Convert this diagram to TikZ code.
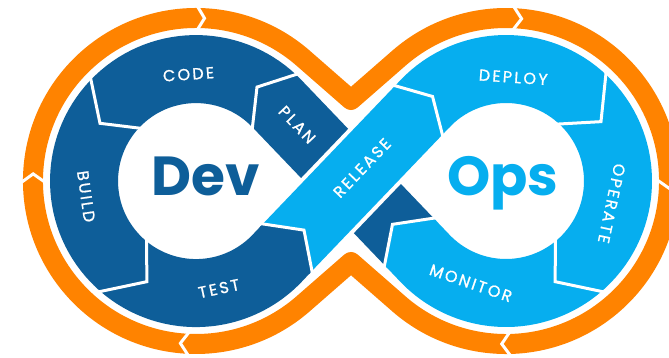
\documentclass[tikz,border=0pt]{standalone}
\usepackage{fontspec}
\setmainfont{Poppins}
\newfontfamily\lblfont{Poppins}[LetterSpace=14,FakeBold=1]
\definecolor{devblue}{HTML}{0E5E99}
\definecolor{opsblue}{HTML}{06AEEF}
\definecolor{loop}{HTML}{FF8300}
\begin{document}
\begin{tikzpicture}[x=1pt,y=1pt,
	band/.style={line width=68pt},
	rim/.style={draw=loop,line width=20pt,line join=round},
	cut/.style={draw=white,line width=3pt},
	lbl/.style={text=white,font=\lblfont\fontsize{16}{16}\selectfont},
	big/.style={font=\bfseries\fontsize{55}{55}\selectfont,anchor=base}]
	\useasboundingbox[fill=white] (0,0) rectangle (669,357);
	\coordinate (devC) at (196,176);
	\coordinate (opsC) at (506,176);
	\coordinate (mid) at (351,176);

	% the two crossing strips
	\begin{scope}[shift={(mid)},rotate=46.25]
		\coordinate (relA) at (-94,0);
		\coordinate (relB) at (108,0);
	\end{scope}
	\begin{scope}[shift={(mid)},rotate=133.75]
		\coordinate (planA) at (-86,0);
		\coordinate (planB) at (107.1,0);
	\end{scope}

	% dark loop, then light loop
	\draw[band,devblue] (planA) -- (planB) arc[start angle=43.74,end angle=316.26,radius=112] -- (relA);
	\draw[band,opsblue] ([shift={(opsC)}]136.26:112) arc[start angle=136.26,end angle=-136.26,radius=112] -- (planA);
	\begin{scope}[shift={(mid)},rotate=133.75]
		\fill[opsblue] (-60,0) -- (-84,34) -- (-88,34) -- (-88,-34) -- (-84,-34) -- cycle;
		\draw[cut] (-86.8,38) -- (-60,0) -- (-86.8,-38);
	\end{scope}

	% release goes over
	\begin{scope}[shift={(mid)},rotate=46.25]
		\draw[white,line width=76pt] (-50,0) -- (50,0);
	\end{scope}
	\draw[band,opsblue] (relA) -- (relB);
	\begin{scope}[shift={(mid)},rotate=46.25]
		\fill[devblue] (-68,0) -- (-92,34) -- (-96,34) -- (-96,-34) -- (-92,-34) -- cycle;
		\draw[cut] (-94.8,38) -- (-68,0) -- (-94.8,-38);
	\end{scope}

	% orange rim
	\draw[rim] (351,257) -- (399.1,299) arc[start angle=131,end angle=-131,radius=163] -- (351,95) -- (302.9,53) arc[start angle=-49,end angle=-311,radius=163] -- cycle;

	% Dev side
	\begin{scope}[shift={(devC)}]
		\draw[cut] (46:150) -- (57:112) -- (41:74);
		\draw[cut] (135:150) -- (149:112) -- (135:74);
		\draw[cut] (228:150) -- (244:112) -- (228:74);
		\draw[cut] (90:177) -- (87:163) -- (90:149);
		\draw[cut] (181:177) -- (177.5:163) -- (181:149);
		\draw[cut] (268:177) -- (264.5:163) -- (268:149);
		\node[lbl,rotate=4] (code) at (94:107) {CODE};
		\node[lbl,rotate=-82] (build) at (188:111) {BUILD};
		\node[lbl,rotate=12] (test) at (282:110) {TEST};
	\end{scope}

	% Ops side
	\begin{scope}[shift={(opsC)}]
		\draw[cut] (140:150) -- (131:112) -- (147:74);
		\draw[cut] (48:150) -- (32:112) -- (50:74);
		\draw[cut] (-48:150) -- (-64:112) -- (-48:74);
		\draw[cut] (88:177) -- (84.5:163) -- (88:149);
		\draw[cut] (1:177) -- (-2.5:163) -- (1:149);
		\draw[cut] (-88:177) -- (-91.5:163) -- (-88:149);
		\node[lbl,rotate=-4] (deploy) at (86:104) {DEPLOY};
		\node[lbl,rotate=-102] (operate) at (-12:108) {OPERATE};
		\node[lbl,rotate=-19] (monitor) at (251:108) {MONITOR};
	\end{scope}

	\begin{scope}[shift={(mid)},rotate=133.75]
		\node[lbl,rotate=-46.25] (plan) at (78,0) {PLAN};
	\end{scope}
	\begin{scope}[shift={(mid)},rotate=46.25]
		\node[lbl,rotate=46.25] (release) at (17,1) {RELEASE};
	\end{scope}

	\node[big,text=devblue] (dev) at (206,162) {Dev};
	\node[big,text=opsblue] (ops) at (503,162) {Ops};
\end{tikzpicture}
\end{document}
